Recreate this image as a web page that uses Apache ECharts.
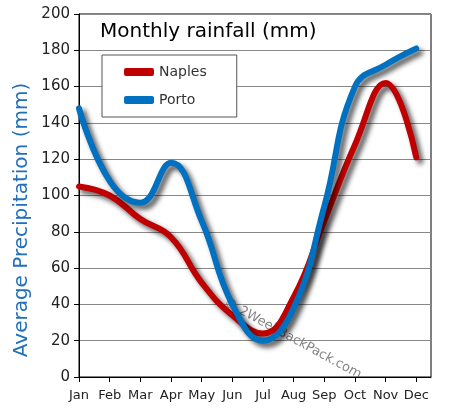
<!DOCTYPE html>
<html><head><meta charset="utf-8">
<script src="https://cdn.jsdelivr.net/npm/echarts@6/dist/echarts.min.js"></script>
<style>html,body{margin:0;padding:0;background:#fff}#c{width:451px;height:418px}</style>
</head><body><div id="c"></div>
<script>
const months = ['Jan','Feb','Mar','Apr','May','Jun','Jul','Aug','Sep','Oct','Nov','Dec'];
const naples = [105, 100, 87, 77, 52, 34, 24, 44, 86, 128, 162, 121];
const porto  = [148, 108, 96, 118, 86, 40, 20, 38, 94, 160, 172, 181];
const yTicks = [0, 20, 40, 60, 80, 100, 120, 140, 160, 180, 200];

const font = '"DejaVu Sans", sans-serif';
const chart = echarts.init(document.getElementById('c'));
function pts(arr){ return arr.map((v,i)=>[i,v]); }
const shadow = {shadowColor:'rgba(0,0,0,0.65)', shadowBlur:5, shadowOffsetX:4, shadowOffsetY:4};
chart.setOption({
  animation:false,
  backgroundColor:'#fff',
  title:{text:'Monthly rainfall (mm)', left:95, top:17, textStyle:{fontFamily:font, fontSize:20, fontWeight:'normal', color:'#000'}},
  legend:{
    orient:'vertical', left:102, top:55, padding:[10,30,10,22],
    backgroundColor:'#fff', borderColor:'#555', borderWidth:1,
    itemWidth:30, itemHeight:8, itemGap:14, icon:'roundRect',
    textStyle:{fontFamily:font, fontSize:14, color:'#333'},
    data:['Naples','Porto']
  },
  grid:{left:79, top:14, right:20, bottom:41, show:true, borderColor:'#000', borderWidth:1},
  xAxis:{type:'value', min:0, max:11.48, interval:1,
    axisLine:{show:true, lineStyle:{color:'#000'}},
    axisTick:{show:true, length:5, lineStyle:{color:'#000'}},
    splitLine:{show:false},
    axisLabel:{fontFamily:font, fontSize:13, color:'#222', margin:12, showMaxLabel:false,
      formatter:v=> Number.isInteger(v) ? (months[v]||'') : ''}
  },
  yAxis:{type:'value', min:yTicks[0], max:yTicks[yTicks.length-1], interval:20,
    axisLine:{show:true, lineStyle:{color:'#000'}},
    axisTick:{show:true, length:5, lineStyle:{color:'#000'}},
    splitLine:{lineStyle:{color:'#888'}},
    axisLabel:{fontFamily:font, fontSize:15, color:'#222', margin:9}
  },
  series:[
    {name:'Naples', type:'line', smooth:0.45, showSymbol:false, data:pts(naples), color:'#c00000',
      lineStyle:Object.assign({width:6, color:'#c00000', cap:'round'}, shadow)},
    {name:'Porto', type:'line', smooth:0.45, showSymbol:false, data:pts(porto), color:'#0070c0',
      lineStyle:Object.assign({width:6, color:'#0070c0', cap:'round'}, shadow)}
  ],
  graphic:[
    {type:'text', x:22, y:220, rotation:Math.PI/2,
      style:{text:'Average Precipitation (mm)', font:'20px '+font, fill:'#1f6fba', align:'center', verticalAlign:'middle'}},
    {type:'text', x:228, y:296, rotation:-0.5,
      style:{text:'© 2WeekBackPack.com', font:'13px '+font, fill:'rgba(90,90,90,0.75)'}}]
});
</script></body></html>
